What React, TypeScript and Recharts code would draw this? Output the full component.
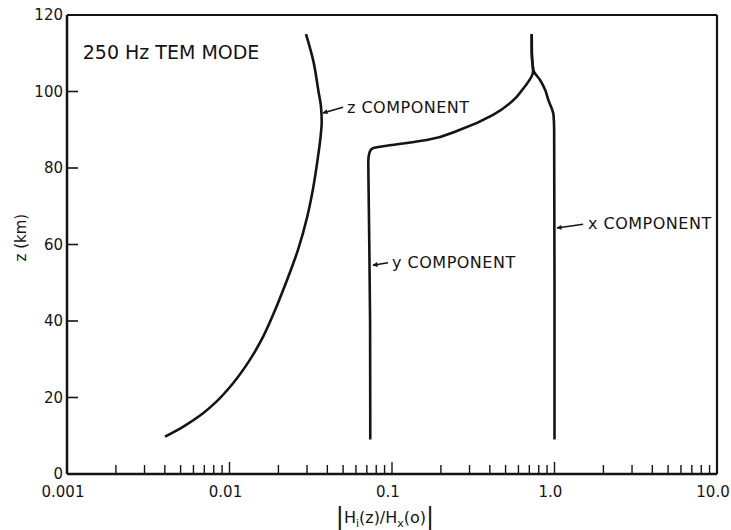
import { LineChart, Line, XAxis, YAxis, ReferenceLine, ReferenceDot, Label } from 'recharts';

// |H(z)/Hx(0)|, with altitude z in km
const zCompValue = [0.00401, 0.0052, 0.00659, 0.00834, 0.01055, 0.01337, 0.01614, 0.0186, 0.02226, 0.02639, 0.02998, 0.03279, 0.03479, 0.03631, 0.03693, 0.03657, 0.03529, 0.03279, 0.02956];
const zCompAlt = [9.75, 12.4, 15.3, 19, 23.8, 29.9, 36, 41.75, 50, 58.6, 67, 75, 82, 88, 92, 96, 100, 108, 115];

const yCompValue = [0.0735, 0.0733, 0.072, 0.0715, 0.073, 0.0764, 0.0927, 0.1637, 0.262, 0.419, 0.585, 0.643, 0.738, 0.725, 0.724];
const yCompAlt = [9, 40, 70, 82, 84.3, 85.2, 85.8, 87.3, 90, 93.9, 98.6, 100.8, 105.2, 110, 115];

const xCompValue = [1.0, 1.0, 0.995, 0.986, 0.916, 0.874, 0.815, 0.741, 0.725, 0.724];
const xCompAlt = [9, 50, 90, 93.9, 97.8, 100.5, 103, 105.6, 110, 115];

const xMajorTicks = [0.001, 0.01, 0.1, 1, 10];
const xMajorLabels = ['0.001', '0.01', '0.1', '1.0', '10.0'];
const yTicks = [0, 20, 40, 60, 80, 100, 120];

const xAllTicks = [
  ...xMajorTicks.slice(0, 4).flatMap(d => [1, 2, 3, 4, 5, 6, 7, 8, 9].map(m => m * d)),
  10,
];

const toPoints = (xs: number[], zs: number[]) => xs.map((x, i) => ({ x, z: zs[i] }));
const zComp = toPoints(zCompValue, zCompAlt);
const yComp = toPoints(yCompValue, yCompAlt);
const xComp = toPoints(xCompValue, xCompAlt);

const INK = '#141414';
const FONT = '"DejaVu Sans", "Liberation Sans", sans-serif';

const XTick = (props: any) => {
  const { x, y, payload } = props;
  const v = payload.value;
  const idx = xMajorTicks.findIndex(t => Math.abs(t - v) / v < 1e-6);
  const major = idx >= 0;
  return (
    <g>
      <line x1={x} x2={x} y1={y} y2={y - (major ? 12 : 9)} stroke={INK} strokeWidth={1.4} />
      {major && (
        <text x={x} dx={-4} y={y + 23} textAnchor="middle" fontSize={15} fill={INK} fontFamily={FONT}>
          {xMajorLabels[idx]}
        </text>
      )}
    </g>
  );
};

const YTick = (props: any) => {
  const { x, y, payload } = props;
  const v = payload.value;
  return (
    <g>
      {v > 0 && v < 120 && <line x1={x} x2={x + 11} y1={y} y2={y} stroke={INK} strokeWidth={1.6} />}
      <text x={x - 4} y={y} textAnchor="end" dominantBaseline="central" fontSize={15} fill={INK} fontFamily={FONT}>
        {v}
      </text>
    </g>
  );
};

const textShape = (text: string, size: number, spacing = 0) => (p: any) => (
  <text
    x={p.cx}
    y={p.cy}
    dominantBaseline="central"
    fontSize={size}
    letterSpacing={spacing}
    fill={INK}
    fontFamily={FONT}
  >
    {text}
  </text>
);

const labels = [
  { x: 0.00125, z: 110.3, text: '250 Hz TEM MODE', size: 19, spacing: 0 },
  { x: 0.0528, z: 95.9, text: 'z COMPONENT', size: 16, spacing: 0.5 },
  { x: 0.1, z: 55.4, text: 'y COMPONENT', size: 16, spacing: 0.5 },
  { x: 1.607, z: 65.4, text: 'x COMPONENT', size: 16, spacing: 0.5 },
];

const arrows = [
  [{ x: 0.0376, y: 94.4 }, { x: 0.05, y: 95.9 }],
  [{ x: 0.0764, y: 54.6 }, { x: 0.0945, y: 55.2 }],
  [{ x: 1.036, y: 64.3 }, { x: 1.5, y: 65.3 }],
];

export default function App() {
  return (
    <div style={{ position: 'absolute', left: 0, top: 0, background: '#fff' }}>
      <LineChart width={731} height={530} margin={{ top: 15, right: 14, bottom: 0, left: 0 }}>
        <defs>
          <marker id="arrowHead" viewBox="0 0 10 10" refX="9" refY="5" markerWidth="7" markerHeight="5" orient="auto-start-reverse" markerUnits="userSpaceOnUse">
            <path d="M0,0 L10,5 L0,10 z" fill={INK} />
          </marker>
        </defs>
        <XAxis
          dataKey="x"
          type="number"
          scale="log"
          domain={[0.001, 10]}
          allowDataOverflow
          ticks={xAllTicks}
          interval={0}
          tick={<XTick />}
          tickSize={0}
          tickMargin={0}
          tickLine={false}
          height={56}
          axisLine={{ stroke: INK, strokeWidth: 2.5 }}
          label={
            <Label
              content={(p: any) => {
                const vb = p.viewBox;
                return (
                  <text x={vb.x + vb.width / 2 - 7} y={vb.y + 49} textAnchor="middle" fontSize={16} fill={INK} fontFamily={FONT}>
                    <tspan fontSize={24} dy={2}>|</tspan>
                    <tspan dy={-2}>H</tspan>
                    <tspan fontSize={11} dy={4}>i</tspan>
                    <tspan dy={-4}>(z)/H</tspan>
                    <tspan fontSize={11} dy={4}>x</tspan>
                    <tspan dy={-4}>(o)</tspan>
                    <tspan fontSize={24} dy={2}>|</tspan>
                  </text>
                );
              }}
            />
          }
        />
        <YAxis
          type="number"
          domain={[0, 120]}
          allowDataOverflow
          ticks={yTicks}
          interval={0}
          tick={<YTick />}
          tickSize={0}
          tickMargin={0}
          tickLine={false}
          width={67}
          axisLine={{ stroke: INK, strokeWidth: 2.5 }}
          label={
            <Label
              content={(p: any) => {
                const vb = p.viewBox;
                const cx = vb.x + 21;
                const cy = vb.y + vb.height * 0.485;
                return (
                  <text x={cx} y={cy} transform={`rotate(-90 ${cx} ${cy})`} textAnchor="middle" dominantBaseline="central" fontSize={15} fill={INK} fontFamily={FONT}>
                    z (km)
                  </text>
                );
              }}
            />
          }
        />
        <ReferenceLine y={120} stroke={INK} strokeWidth={2.2} />
        <ReferenceLine x={10} stroke={INK} strokeWidth={2.2} />

        <Line data={zComp} dataKey="z" type="monotoneY" stroke={INK} strokeWidth={2.6} dot={false} isAnimationActive={false} />
        <Line data={yComp} dataKey="z" type="monotoneY" stroke={INK} strokeWidth={2.6} dot={false} isAnimationActive={false} />
        <Line data={xComp} dataKey="z" type="monotoneY" stroke={INK} strokeWidth={2.6} dot={false} isAnimationActive={false} />

        {arrows.map((seg, i) => (
          <ReferenceLine key={`a${i}`} segment={seg} stroke={INK} strokeWidth={1.5} markerStart="url(#arrowHead)" />
        ))}
        {labels.map(l => (
          <ReferenceDot key={l.text} x={l.x} y={l.z} r={0} shape={textShape(l.text, l.size, l.spacing)} />
        ))}
      </LineChart>
    </div>
  );
}
